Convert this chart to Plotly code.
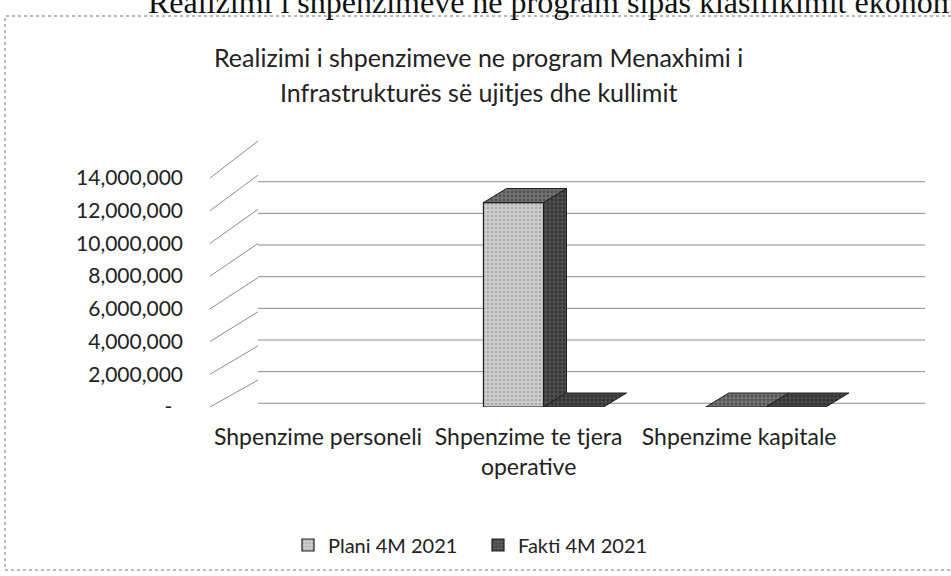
import plotly.graph_objects as go

# ---------------- data ----------------
categories = ["Shpenzime personeli", "Shpenzime te tjera<br>operative", "Shpenzime kapitale"]
series_names = ["Plani 4M 2021", "Fakti 4M 2021"]
plani = [None, 12500000, 0]
fakti = [None, 0, 0]
y_ticks = [0, 2000000, 4000000, 6000000, 8000000, 10000000, 12000000, 14000000]
y_tick_labels = ["-\u00a0\u00a0"] + [f"{v:,}" for v in y_ticks[1:]]
chart_title_1 = "Realizimi i shpenzimeve ne program Menaxhimi i"
chart_title_2 = "Infrastrukturës së ujitjes dhe kullimit"
page_heading = "Realizimi i shpenzimeve ne program sipas klasifikimit ekonomik"

# ---------------- layout geometry (pixels) ----------------
W, H = 951, 576
FRONT_L, PLOT_R = 210, 925       # front-left edge, back-right edge
FRONT_B, FRONT_T = 407, 178      # front plane: pixel of 0 and of top tick
BACK_L = 258                     # back wall left edge
BACK_B, BACK_T = 380, 141        # back wall: pixel of 0 and of top tick
BAR_DX, BAR_DY = 23, 14          # depth offset of bars
FONT = "Lato"

n = len(categories)
unit_px = (PLOT_R - BACK_L) / n
x_range = [-0.5, -0.5 + (PLOT_R - FRONT_L) / unit_px]
y_top = y_ticks[-1]
front_ppv = (FRONT_B - FRONT_T) / y_top
back_ppv = (BACK_B - BACK_T) / y_top
PAD = 4
y2_range = [-PAD / back_ppv, y_top + PAD / back_ppv]
bar_dx = BAR_DX / unit_px
bar_dy = BAR_DY / front_ppv

def px_x(p):
    return p / W

def px_y(p):
    return 1 - p / H

bw = 0.27
offsets = [-bw, 0.0]

styles = [
    dict(front=("#cdcdcd", "#8a8a8a"), side=("#505050", "#1a1a1a"), top=("#767676", "#2a2a2a")),
    dict(front=("#5a5a5a", "#222222"), side=("#3a3a3a", "#111111"), top=("#4a4a4a", "#151515")),
]

fig = go.Figure()
x_idx = list(range(n))

for s, (name, vals) in enumerate(zip(series_names, [plani, fakti])):
    bg, fg = styles[s]["front"]
    fig.add_trace(go.Bar(
        name=name, x=x_idx, y=vals, width=bw, offset=offsets[s],
        marker=dict(color=bg, line=dict(color="#1e1e1e", width=1.2),
                    pattern=dict(shape=".", fgcolor=fg, bgcolor=bg, size=4, solidity=0.35)),
        hoverinfo="skip",
    ))

# 3D faces (side and top) built from the same values
for s, vals in enumerate([plani, fakti]):
    side_x, side_y, top_x, top_y = [], [], [], []
    for i, v in enumerate(vals):
        if v is None:
            continue
        xl = i + offsets[s]
        xr = xl + bw
        if v > 0:
            side_x += [xr, xr + bar_dx, xr + bar_dx, xr, xr, None]
            side_y += [0, bar_dy, v + bar_dy, v, 0, None]
        top_x += [xl, xr, xr + bar_dx, xl + bar_dx, xl, None]
        top_y += [v, v, v + bar_dy, v + bar_dy, v, None]
    for fx, fy, key in [(side_x, side_y, "side"), (top_x, top_y, "top")]:
        if not fx:
            continue
        bg, fg = styles[s][key]
        fig.add_trace(go.Scatter(
            x=fx, y=fy, mode="lines", fill="toself", fillcolor=bg,
            fillpattern=dict(shape=".", fgcolor=fg, bgcolor=bg, size=4, solidity=0.4),
            line=dict(color="#1e1e1e", width=1), showlegend=False, hoverinfo="skip",
        ))

# back wall gridlines (own perspective scale on y2) + side-wall diagonals
back_left_x = x_range[0] + (BACK_L - FRONT_L) / unit_px
shapes = []
for v in y_ticks:
    shapes.append(dict(type="line", xref="x", yref="y2", layer="below",
                       x0=back_left_x, x1=x_range[1], y0=v, y1=v,
                       line=dict(color="#8c8c8c", width=1)))
    shapes.append(dict(type="line", xref="paper", yref="paper", layer="below",
                       x0=px_x(FRONT_L), x1=px_x(BACK_L),
                       y0=px_y(FRONT_B - v * front_ppv), y1=px_y(BACK_B - v * back_ppv),
                       line=dict(color="#8c8c8c", width=1)))
# outer dotted chart frame
shapes.append(dict(type="rect", xref="paper", yref="paper",
                   x0=px_x(5), x1=px_x(960), y0=px_y(570), y1=px_y(16),
                   line=dict(color="#777777", width=1, dash="dot")))

annotations = [
    dict(text=page_heading, xref="paper", yref="paper", x=px_x(146), y=px_y(22),
         xanchor="left", yanchor="bottom", showarrow=False,
         font=dict(family="Liberation Serif", size=32, color="#111")),
    dict(text=chart_title_1, xref="paper", yref="paper", x=px_x(478), y=px_y(57),
         xanchor="center", yanchor="middle", showarrow=False,
         font=dict(family=FONT, size=25, color="#222")),
    dict(text=chart_title_2, xref="paper", yref="paper", x=px_x(478), y=px_y(92),
         xanchor="center", yanchor="middle", showarrow=False,
         font=dict(family=FONT, size=25, color="#222")),
]

label_pos = [i * 0.947 - 0.014 for i in x_idx]

fig.update_layout(
    width=W, height=H,
    margin=dict(l=0, r=0, t=0, b=0, autoexpand=False),
    paper_bgcolor="white", plot_bgcolor="rgba(0,0,0,0)",
    barmode="overlay",
    font=dict(family=FONT, size=21, color="#222"),
    xaxis=dict(domain=[px_x(FRONT_L), px_x(PLOT_R)], range=x_range,
               tickvals=label_pos, ticktext=categories, showgrid=False, automargin=False,
               zeroline=False, showline=False, ticks="", ticklabelstandoff=14,
               tickfont=dict(size=23)),
    yaxis=dict(domain=[px_y(FRONT_B), px_y(FRONT_T)], range=[0, y_top],
               tickvals=y_ticks, ticktext=y_tick_labels, showgrid=False, automargin=False,
               zeroline=False, showline=False, ticks="", ticklabelstandoff=26,
               tickfont=dict(size=21)),
    yaxis2=dict(domain=[px_y(BACK_B + PAD), px_y(BACK_T - PAD)], range=y2_range,
                overlaying="y", visible=False, showgrid=False, zeroline=False),
    legend=dict(orientation="h", x=px_x(288), y=px_y(545), xanchor="left", yanchor="middle",
                font=dict(size=20), entrywidth=145, entrywidthmode="pixels",
                bgcolor="rgba(0,0,0,0)"),
    shapes=shapes,
    annotations=annotations,
    hovermode=False,
)

fig.write_html("out.html", config={"displayModeBar": False},
               post_script="document.body.style.margin='0';document.body.style.overflow='hidden';")
